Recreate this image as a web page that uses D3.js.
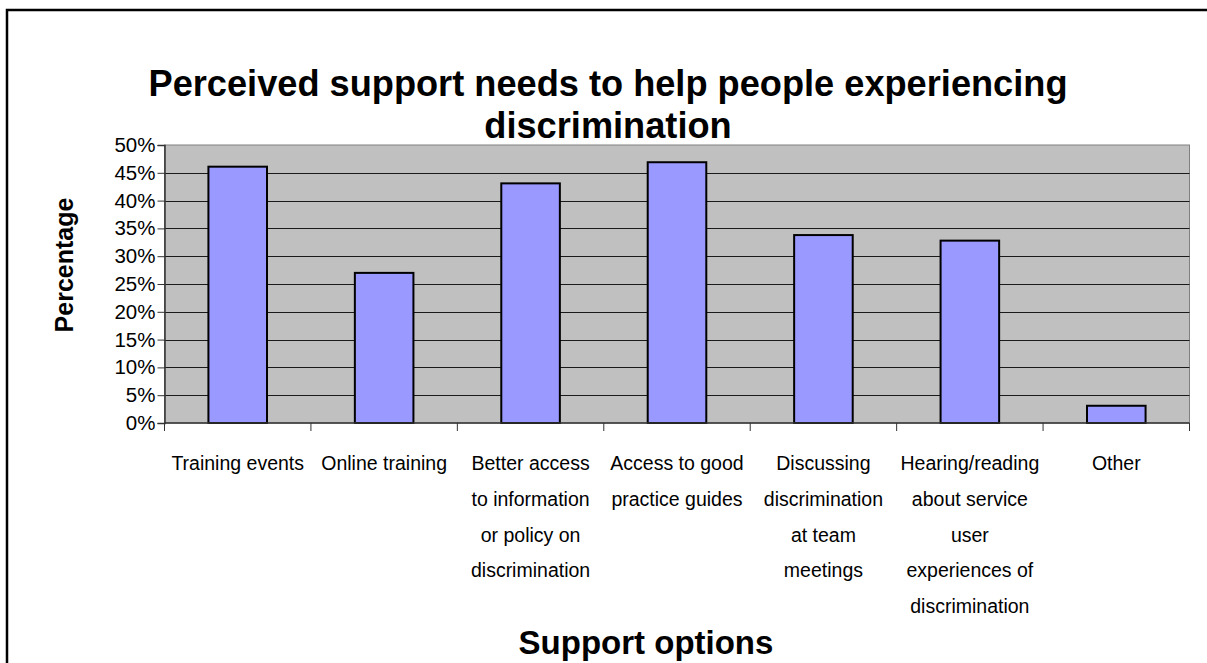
<!DOCTYPE html>
<html>
<head>
<meta charset="utf-8">
<script src="https://cdn.jsdelivr.net/npm/d3@7"></script>
<style>
  html, body { margin: 0; padding: 0; background: #ffffff; overflow: hidden; }
  svg { display: block; }
  text { font-family: "Liberation Sans", Arial, sans-serif; }
</style>
</head>
<body>
<svg id="chart" width="1207" height="663"></svg>
<script>
// Share of respondents naming each kind of support
const categories = [
  "Training events",
  "Online training",
  "Better access to information or policy on discrimination",
  "Access to good practice guides",
  "Discussing discrimination at team meetings",
  "Hearing/reading about service user experiences of discrimination",
  "Other"
];
const categoryLines = [
  ["Training events"],
  ["Online training"],
  ["Better access", "to information", "or policy on", "discrimination"],
  ["Access to good", "practice guides"],
  ["Discussing", "discrimination", "at team", "meetings"],
  ["Hearing/reading", "about service", "user", "experiences of", "discrimination"],
  ["Other"]
];
const values = [46.1, 27.0, 43.1, 46.9, 33.8, 32.8, 3.1];
const yTicks = [0, 5, 10, 15, 20, 25, 30, 35, 40, 45, 50];
const titleLines = ["Perceived support needs to help people experiencing", "discrimination"];
const xTitle = "Support options";
const yTitle = "Percentage";

const svg = d3.select("#chart");
const plot = { left: 164.5, right: 1189.5, top: 145, bottom: 423 };

// outer chart frame (runs past the right and bottom edges)
svg.append("rect")
  .attr("x", 7).attr("y", 10)
  .attr("width", 1240).attr("height", 700)
  .attr("fill", "#ffffff")
  .attr("stroke", "#000000")
  .attr("stroke-width", 2.5);

const x = d3.scaleBand()
  .domain(categories)
  .range([plot.left, plot.right])
  .paddingInner(0.6)
  .paddingOuter(0.3);

const y = d3.scaleLinear()
  .domain([0, 50])
  .range([plot.bottom, plot.top]);

// plot area
svg.append("rect")
  .attr("x", plot.left).attr("y", plot.top)
  .attr("width", plot.right - plot.left)
  .attr("height", plot.bottom - plot.top)
  .attr("fill", "#c0c0c0")
  .attr("stroke", "#808080")
  .attr("stroke-width", 1);

// horizontal gridlines
svg.append("g")
  .selectAll("line")
  .data(yTicks.filter(t => t > 0 && t < 50))
  .join("line")
  .attr("x1", plot.left).attr("x2", plot.right)
  .attr("y1", d => Math.round(y(d)) + 0.5)
  .attr("y2", d => Math.round(y(d)) + 0.5)
  .attr("stroke", "#1a1a1a")
  .attr("stroke-width", 1);

// bars
svg.append("g")
  .selectAll("rect")
  .data(values)
  .join("rect")
  .attr("x", (d, i) => x(categories[i]))
  .attr("y", d => y(d))
  .attr("width", x.bandwidth())
  .attr("height", d => y(0) - y(d))
  .attr("fill", "#9999ff")
  .attr("stroke", "#000000")
  .attr("stroke-width", 2);

// y axis
const yAxis = d3.axisLeft(y)
  .tickValues(yTicks)
  .tickFormat(d => d + "%")
  .tickSize(7)
  .tickPadding(2);
const gy = svg.append("g")
  .attr("transform", `translate(${plot.left},0)`)
  .call(yAxis);
gy.select(".domain").attr("stroke", "#333333").attr("stroke-width", 1.5);
gy.selectAll(".tick line").attr("stroke", "#333333");
gy.selectAll(".tick text")
  .attr("font-size", 20.5)
  .attr("fill", "#000000")
  .style("font-family", '"Liberation Sans", Arial, sans-serif');

// x axis: ticks between categories
const step = x.step();
const boundaries = d3.range(categories.length + 1).map(i => x(categories[0]) - x.paddingOuter() * step + i * step);
svg.append("line")
  .attr("x1", plot.left).attr("x2", plot.right)
  .attr("y1", plot.bottom).attr("y2", plot.bottom)
  .attr("stroke", "#333333").attr("stroke-width", 1.5);
svg.append("g")
  .selectAll("line")
  .data(boundaries)
  .join("line")
  .attr("x1", d => d).attr("x2", d => d)
  .attr("y1", plot.bottom).attr("y2", plot.bottom + 8)
  .attr("stroke", "#333333");

// category labels
const labels = svg.append("g")
  .attr("font-size", 19.5)
  .attr("text-anchor", "middle")
  .attr("fill", "#000000");
categoryLines.forEach((lines, i) => {
  const cx = x(categories[i]) + x.bandwidth() / 2;
  lines.forEach((line, j) => {
    labels.append("text")
      .attr("x", cx)
      .attr("y", 470 + j * 35.8)
      .text(line);
  });
});

// chart title
svg.append("g")
  .selectAll("text")
  .data(titleLines)
  .join("text")
  .attr("x", 608)
  .attr("y", (d, i) => 96 + i * 42)
  .attr("text-anchor", "middle")
  .attr("font-size", 36.2)
  .attr("font-weight", "bold")
  .text(d => d);

// axis titles
svg.append("text")
  .attr("x", 646)
  .attr("y", 654)
  .attr("text-anchor", "middle")
  .attr("font-size", 33)
  .attr("font-weight", "bold")
  .text(xTitle);

svg.append("text")
  .attr("transform", `translate(73, 265) rotate(-90)`)
  .attr("text-anchor", "middle")
  .attr("font-size", 25)
  .attr("font-weight", "bold")
  .text(yTitle);
</script>
</body>
</html>
